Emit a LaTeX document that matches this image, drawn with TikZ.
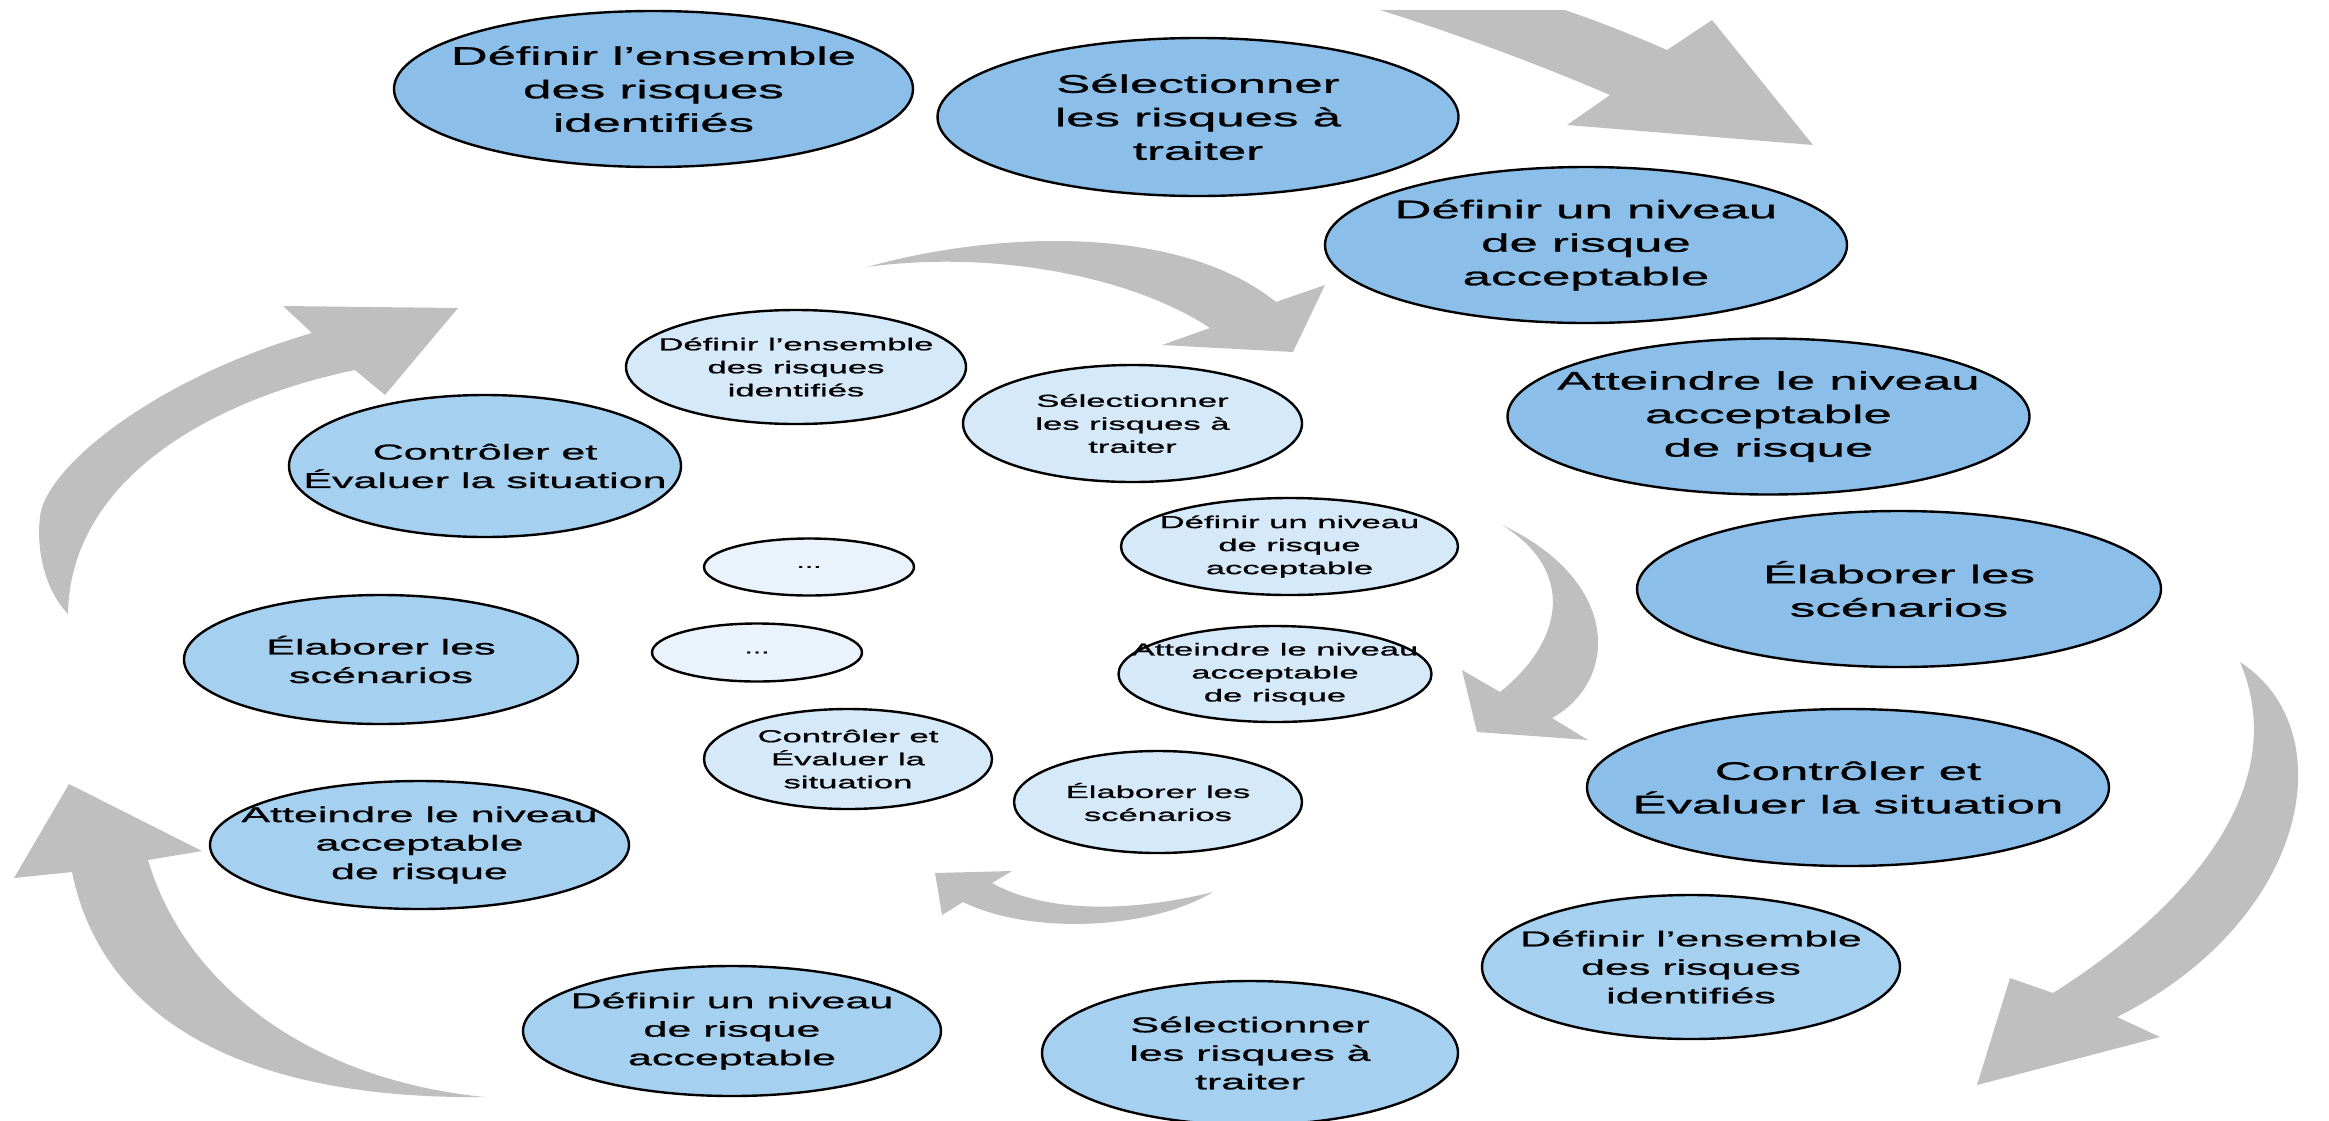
\documentclass[tikz,border=0pt]{standalone}
\usepackage{fontspec}
\setmainfont{Liberation Sans}
\newfontfamily\widefont[FakeStretch=2.0, FakeBold=1.0]{Liberation Sans}
\usetikzlibrary{shapes.geometric}

\definecolor{darkfill}{HTML}{8BBFE9}
\definecolor{midfill}{HTML}{A6D0F0}
\definecolor{innerfill}{HTML}{D5E9F9}
\definecolor{dotfill}{HTML}{EAF3FC}
\definecolor{arrowgray}{HTML}{BFBFBF}

\tikzset{
  ell/.style={ellipse, draw=black, line width=2.4pt, inner sep=0pt},
  sz/.style 2 args={minimum width=#1pt, minimum height=#2pt},
  bigE/.style={ell, fill=darkfill},
  midE/.style={ell, fill=midfill},
  innE/.style={ell, fill=innerfill},
  dotE/.style={ell, fill=dotfill},
  bigT/.style={align=center, inner sep=0pt, font=\widefont\fontsize{25.5}{33.5}\selectfont},
  midT/.style={align=center, inner sep=0pt, font=\widefont\fontsize{21.5}{28.5}\selectfont},
  smallT/.style={align=center, inner sep=0pt, font=\widefont\fontsize{17.3}{23}\selectfont},
  dotT/.style={align=center, inner sep=0pt, font=\widefont\fontsize{15}{18}\selectfont},
  arw/.style={fill=arrowgray, draw=none},
}

\begin{document}
\begin{tikzpicture}[x=1pt, y=-1pt]
\useasboundingbox (0,0) rectangle (2329,1120);

% curved grey arrows (tapered tail, triangular head)
% top right
\fill[arw] (1380,10) -- (1565,10)
  .. controls (1600,22) and (1640,38) .. (1667,50)
  -- (1712,20) -- (1813,145) -- (1567,125) -- (1610,95)
  .. controls (1540,65) and (1460,35) .. (1380,10) -- cycle;

% top centre
\fill[arw] (867,267) .. controls (1000,230) and (1180,225) .. (1276,302)
  -- (1325,285) -- (1293,352) -- (1162,345) -- (1210,328)
  .. controls (1130,275) and (990,250) .. (867,267) -- cycle;

% right, inner
\fill[arw] (1502,525) .. controls (1620,580) and (1620,680) .. (1552,718)
  -- (1588,740) -- (1477,732) -- (1462,670) -- (1500,692)
  .. controls (1565,640) and (1575,570) .. (1502,525) -- cycle;

% bottom centre
\fill[arw] (1213,892) .. controls (1120,915) and (1040,910) .. (992,883)
  -- (1012,871) -- (935,873) -- (942,915) -- (963,902)
  .. controls (1030,935) and (1150,930) .. (1213,892) -- cycle;

% right, outer
\fill[arw] (2240,662) .. controls (2345,730) and (2310,920) .. (2117,1017)
  -- (2160,1037) -- (1977,1085) -- (2010,978) -- (2053,993)
  .. controls (2200,900) and (2290,780) .. (2240,662) -- cycle;

% bottom left
\fill[arw] (485,1097) .. controls (230,1100) and (100,1010) .. (72,872)
  -- (14,878) -- (69,784) -- (202,851) -- (148,860)
  .. controls (185,985) and (310,1080) .. (485,1097) -- cycle;

% left, upper
\fill[arw] (68,614) .. controls (45,590) and (36,550) .. (40,517)
  .. controls (44,470) and (150,380) .. (312,333)
  -- (283,306) -- (458,308) -- (385,395) -- (355,370)
  .. controls (210,400) and (70,480) .. (68,614) -- cycle;

% outer ring, large ellipses
\node[bigE, sz={519}{156}] (a1) at (653.5,89) {};
\node[bigE, sz={521}{158}] (a2) at (1198,117) {};
\node[bigE, sz={522}{156}] (a3) at (1586,245) {};
\node[bigE, sz={522}{156}] (a4) at (1768.5,416.5) {};
\node[bigE, sz={524}{156}] (a5) at (1899,589) {};
\node[bigE, sz={522}{157}] (a6) at (1848,787.5) {};
\node[bigT] (a1t) at (a1) {Définir l’ensemble\\des risques\\identifiés};
\node[bigT] (a2t) at (a2) {Sélectionner\\les risques à\\traiter};
\node[bigT] (a3t) at (a3) {Définir un niveau\\de risque\\acceptable};
\node[bigT] (a4t) at (a4) {Atteindre le niveau\\acceptable\\de risque};
\node[bigT] (a5t) at (a5) {Élaborer les\\scénarios};
\node[bigT] (a6t) at (a6) {Contrôler et\\Évaluer la situation};

% outer ring, medium ellipses
\node[midE, sz={418}{144}] (a7) at (1691,967) {};
\node[midE, sz={416}{144}] (a8) at (1250,1053) {};
\node[midE, sz={418}{130}] (a9) at (732,1031) {};
\node[midE, sz={419}{128}] (a10) at (419.5,845) {};
\node[midE, sz={394}{129}] (a11) at (381,659.5) {};
\node[midE, sz={392}{142}] (a12) at (485,466) {};
\node[midT] (a7t) at (a7) {Définir l’ensemble\\des risques\\identifiés};
\node[midT] (a8t) at (a8) {Sélectionner\\les risques à\\traiter};
\node[midT] (a9t) at (a9) {Définir un niveau\\de risque\\acceptable};
\node[midT] (a10t) at (a10) {Atteindre le niveau\\acceptable\\de risque};
\node[midT] (a11t) at (a11) {Élaborer les\\scénarios};
\node[midT] (a12t) at (a12) {Contrôler et\\Évaluer la situation};

% inner ring
\node[innE, sz={340}{114}] (b1) at (796,367) {};
\node[innE, sz={339}{117}] (b2) at (1132.5,423.5) {};
\node[innE, sz={337}{97}] (b3) at (1289.5,546.5) {};
\node[innE, sz={313}{96}] (b4) at (1275,674) {};
\node[innE, sz={288}{102}] (b5) at (1158,802) {};
\node[innE, sz={288}{100}] (b6) at (848,759) {};
\node[dotE, sz={210}{57}] (b7) at (809,567) {};
\node[dotE, sz={210}{58}] (b8) at (757,652.5) {};
\node[smallT] (b1t) at (b1) {Définir l’ensemble\\des risques\\identifiés};
\node[smallT] (b2t) at (b2) {Sélectionner\\les risques à\\traiter};
\node[smallT] (b3t) at (b3) {Définir un niveau\\de risque\\acceptable};
\node[smallT] (b4t) at (b4) {Atteindre le niveau\\acceptable\\de risque};
\node[smallT] (b5t) at (b5) {Élaborer les\\scénarios};
\node[smallT] (b6t) at (b6) {Contrôler et\\Évaluer la\\situation};
\node[dotT] (b7t) at (b7) {...};
\node[dotT] (b8t) at (b8) {...};
\end{tikzpicture}
\end{document}
